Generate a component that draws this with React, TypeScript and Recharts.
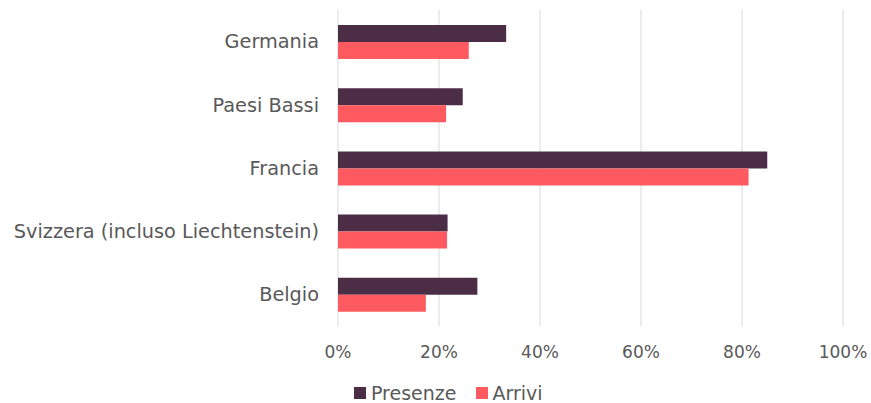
import React from "react";
import { BarChart, Bar, XAxis, YAxis, CartesianGrid, Legend } from "recharts";

const categories = ["Germania", "Paesi Bassi", "Francia", "Svizzera (incluso Liechtenstein)", "Belgio"];
const presenze = [33.3, 24.7, 85.0, 21.7, 27.6];
const arrivi = [25.9, 21.4, 81.3, 21.6, 17.4];
const xTicks = [0, 20, 40, 60, 80, 100];

const data = categories.map((c, i) => ({ name: c, Presenze: presenze[i], Arrivi: arrivi[i] }));

const FONT = "'DejaVu Sans', sans-serif";
const TEXT = "#595959";
const C_PRES = "#4b2e46";
const C_ARR = "#ff5a5f";

const LegendContent = () => (
  <div style={{ display: "flex", alignItems: "center", marginLeft: 354, height: 20, fontFamily: FONT, fontSize: 19, color: TEXT }}>
    <span style={{ width: 12, height: 12, background: C_PRES, display: "inline-block", marginRight: 5 }} />
    <span style={{ marginRight: 19 }}>Presenze</span>
    <span style={{ width: 12, height: 12, background: C_ARR, display: "inline-block", marginRight: 5 }} />
    <span>Arrivi</span>
  </div>
);

export default function App() {
  return (
    <div style={{ position: "absolute", left: 0, top: 0, background: "#fff" }}>
      <BarChart
        width={871}
        height={403}
        data={data}
        layout="vertical"
        margin={{ top: 10, right: 28, bottom: 0, left: 0 }}
        barGap={0}
      >
        <CartesianGrid horizontal={false} stroke="#d9d9d9" />
        <XAxis
          type="number"
          domain={[0, 100]}
          ticks={xTicks}
          tickFormatter={(v) => `${v}%`}
          axisLine={false}
          tickLine={false}
          tickSize={0}
          tickMargin={20}
          height={57}
          tick={{ fill: TEXT, fontFamily: FONT, fontSize: 17 }}
          interval={0}
        />
        <YAxis
          type="category"
          dataKey="name"
          width={338}
          axisLine={false}
          tickLine={false}
          tickSize={0}
          tickMargin={19}
          tick={{ fill: TEXT, fontFamily: FONT, fontSize: 19.3 }}
          interval={0}
        />
        <Legend verticalAlign="bottom" content={<LegendContent />} wrapperStyle={{ left: 0, width: 871, height: 20 }} />
        <Bar dataKey="Presenze" fill={C_PRES} barSize={17} isAnimationActive={false} />
        <Bar dataKey="Arrivi" fill={C_ARR} barSize={17} isAnimationActive={false} />
      </BarChart>
    </div>
  );
}
